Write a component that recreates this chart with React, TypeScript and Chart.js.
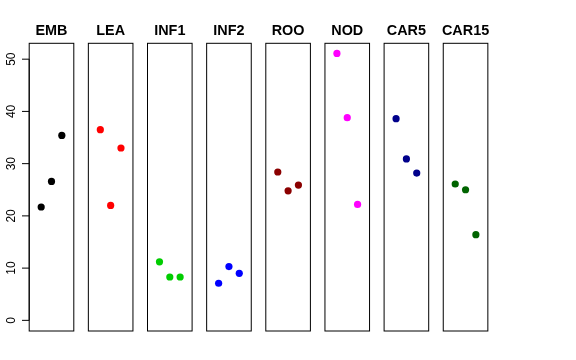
import React, { useEffect, useRef } from "react";
import { Chart, registerables } from "chart.js";

Chart.register(...registerables);

const panels = ["EMB", "LEA", "INF1", "INF2", "ROO", "NOD", "CAR5", "CAR15"];
const colors = ["#000000", "#FF0000", "#00CD00", "#0000FF", "#8B0000", "#FF00FF", "#00008B", "#006400"];
const positions = [1, 2, 3];
const valuesEMB = [21.7, 26.6, 35.4];
const valuesLEA = [36.5, 22.0, 33.0];
const valuesINF1 = [11.2, 8.3, 8.3];
const valuesINF2 = [7.1, 10.3, 9.0];
const valuesROO = [28.4, 24.8, 25.9];
const valuesNOD = [51.1, 38.8, 22.2];
const valuesCAR5 = [38.6, 30.9, 28.2];
const valuesCAR15 = [26.1, 25.0, 16.4];
const seriesValues = [valuesEMB, valuesLEA, valuesINF1, valuesINF2, valuesROO, valuesNOD, valuesCAR5, valuesCAR15];
const yTicks = [0, 10, 20, 30, 40, 50];
const yMin = -2.04;
const yMax = 53.04;
const xMin = -0.16;
const xMax = 4.16;

const W = 576;
const H = 360;
const FIRST_LEFT = 29.2;
const PITCH = 59.15;
const PANEL_W = 44.6;
const TOP = 43.3;
const BOTTOM = 331;

export default function App() {
  const refs = useRef<(HTMLCanvasElement | null)[]>([]);

  useEffect(() => {
    document.body.style.margin = "0";
    const charts: Chart[] = [];
    panels.forEach((name, i) => {
      const canvas = refs.current[i];
      if (!canvas) return;
      const left = FIRST_LEFT + PITCH * i;
      const right = left + PANEL_W;
      const framePlugin = {
        id: "frame" + i,
        afterDraw(chart: any) {
          const ctx = chart.ctx;
          const a = chart.chartArea;
          ctx.save();
          ctx.strokeStyle = "#000";
          ctx.lineWidth = 1;
          ctx.strokeRect(a.left, a.top, a.right - a.left, a.bottom - a.top);
          ctx.fillStyle = "#000";
          ctx.font = "bold 14.4px 'Liberation Sans', Arial, sans-serif";
          ctx.textAlign = "center";
          ctx.textBaseline = "alphabetic";
          ctx.fillText(name, (a.left + a.right) / 2, 34.5);
          if (i === 0) {
            const ys = chart.scales.y;
            ctx.strokeStyle = "#000";
            ctx.beginPath();
            ctx.moveTo(a.left, ys.getPixelForValue(yTicks[0]));
            ctx.lineTo(a.left, ys.getPixelForValue(yTicks[yTicks.length - 1]));
            ctx.stroke();
            ctx.font = "12px 'Liberation Sans', Arial, sans-serif";
            yTicks.forEach((t) => {
              const py = ys.getPixelForValue(t);
              ctx.beginPath();
              ctx.moveTo(a.left, py);
              ctx.lineTo(a.left - 7.2, py);
              ctx.stroke();
              ctx.save();
              ctx.translate(a.left - 11.5, py);
              ctx.rotate(-Math.PI / 2);
              ctx.textAlign = "center";
              ctx.textBaseline = "bottom";
              ctx.fillText(String(t), 0, 0);
              ctx.restore();
            });
          }
          ctx.restore();
        },
      };
      const chart = new Chart(canvas, {
        type: "scatter",
        data: {
          datasets: [
            {
              data: positions.map((x, k) => ({ x, y: seriesValues[i][k] })),
              backgroundColor: colors[i],
              borderColor: colors[i],
              pointRadius: 3.6,
              pointBorderWidth: 0,
              pointHoverRadius: 3.6,
            },
          ],
        },
        options: {
          animation: false,
          responsive: false,
          maintainAspectRatio: false,
          events: [],
          layout: {
            padding: { left, right: W - right, top: TOP, bottom: H - BOTTOM },
          },
          scales: {
            x: { type: "linear", min: xMin, max: xMax, display: false },
            y: { type: "linear", min: yMin, max: yMax, display: false },
          },
          plugins: {
            legend: { display: false },
            tooltip: { enabled: false },
            title: { display: false },
          },
        },
        plugins: [framePlugin],
      });
      charts.push(chart);
    });
    return () => charts.forEach((c) => c.destroy());
  }, []);

  return (
    <div style={{ position: "relative", width: W, height: H, background: "#fff" }}>
      {panels.map((p, i) => (
        <canvas
          key={p}
          ref={(el) => {
            refs.current[i] = el;
          }}
          width={W}
          height={H}
          style={{ position: "absolute", left: 0, top: 0, width: W, height: H }}
        />
      ))}
    </div>
  );
}
